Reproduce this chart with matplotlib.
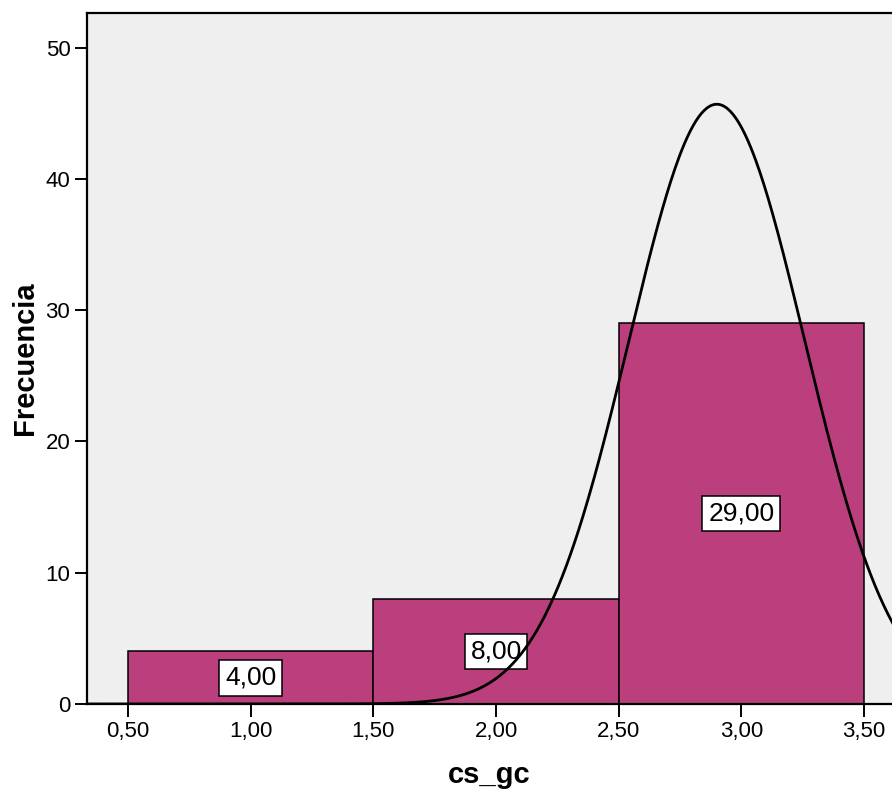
import numpy as np
import matplotlib
matplotlib.use("Agg")
import matplotlib.pyplot as plt

plt.rcParams['font.family'] = ['Liberation Sans', 'DejaVu Sans']

# Histogram of cs_gc
bin_edges = [0.5, 1.5, 2.5, 3.5]
counts = [4, 8, 29]
bar_labels = ["4,00", "8,00", "29,00"]

# Normal curve parameters (mean, std. dev., N)
mean_val = 2.90
std_val = 0.358
n_total = 41

xticks = [0.5, 1.0, 1.5, 2.0, 2.5, 3.0, 3.5]
xtick_labels = ["0,50", "1,00", "1,50", "2,00", "2,50", "3,00", "3,50"]
yticks = [0, 10, 20, 30, 40, 50]

fig = plt.figure(figsize=(8.92, 7.95), dpi=100)
ax = fig.add_axes([87 / 892, 91 / 795, 1 - 87 / 892, 691 / 795])
ax.set_facecolor('#EFEFEF')

widths = np.diff(bin_edges)
lefts = np.array(bin_edges[:-1])
ax.bar(lefts, counts, width=widths, align='edge', color='#BA3F7C',
       edgecolor='black', linewidth=1.1, zorder=2)

for left, w, c, lab in zip(lefts, widths, counts, bar_labels):
    ax.text(left + w / 2, c / 2, lab, ha='center', va='center', fontsize=19,
            zorder=3,
            bbox=dict(boxstyle='square,pad=0.22', facecolor='white',
                      edgecolor='black', linewidth=1.1))

bin_w = bin_edges[1] - bin_edges[0]
xs = np.linspace(0.3, 3.7, 600)
ys = n_total * bin_w * np.exp(-0.5 * ((xs - mean_val) / std_val) ** 2) / (std_val * np.sqrt(2 * np.pi))
ax.plot(xs, ys, color='black', linewidth=2.0, zorder=4)

ax.set_xlim(0.333, 3.614)
ax.set_ylim(0, 52.64)
ax.set_xticks(xticks)
ax.set_xticklabels(xtick_labels)
ax.set_yticks(yticks)
ax.tick_params(axis='both', direction='out', length=9, width=1.4,
               labelsize=16, pad=3)

for side in ['left', 'top', 'bottom']:
    ax.spines[side].set_linewidth(1.6)
ax.spines['right'].set_visible(False)

ax.set_xlabel('cs_gc', fontsize=21, fontweight='bold')
ax.set_ylabel('Frecuencia', fontsize=21, fontweight='bold')
ax.xaxis.set_label_coords(0.5, -0.103)
ax.yaxis.set_label_coords(-0.077, 0.5)
ax.xaxis.label.set_va('center')
ax.yaxis.label.set_va('center')

fig.savefig('out.png', dpi=100)
